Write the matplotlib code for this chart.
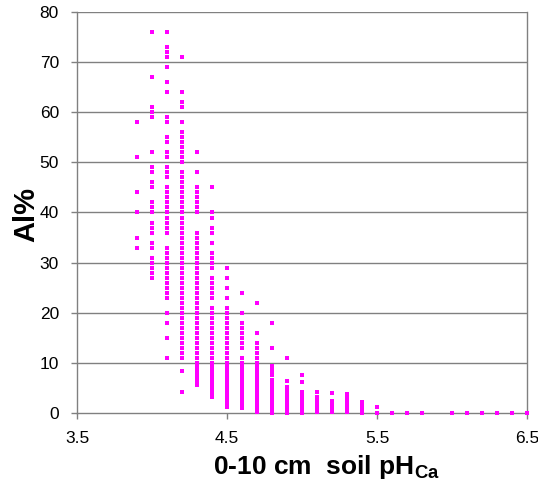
import matplotlib
matplotlib.use("Agg")
import matplotlib.pyplot as plt

plt.rcParams['font.family'] = ['Liberation Sans', 'DejaVu Sans']
plt.rcParams['mathtext.fontset'] = 'custom'
plt.rcParams['mathtext.rm'] = 'Liberation Sans:bold'
plt.rcParams['mathtext.bf'] = 'Liberation Sans:bold'

# ---- data: Al% observations at each 0-10 cm soil pH(Ca) level ----
al_39 = [58, 51, 44, 40, 35, 33]
al_40 = [76, 67, 61, 60, 59, 52, 49, 48, 46, 45, 42, 41, 40, 38, 37, 36, 34, 33,
         31, 30, 29, 28, 27]
al_41 = [76, 73, 72, 71, 69, 66, 64, 59, 58, 55, 54, 52, 51, 49, 48, 47, 45, 44,
         43, 42, 41, 40, 39, 38, 37, 36, 33, 32, 31, 30, 29, 28, 27, 26, 25, 24,
         23, 20, 18, 15, 11]
al_42 = [71, 64, 62, 61, 58, 56, 55, 54, 53, 52, 51, 50, 48, 47, 46, 45, 44, 43,
         42, 41, 40, 39, 38, 37, 36, 35, 34, 33, 32, 31, 30, 29, 28, 27, 26, 25,
         24, 23, 22, 21, 20, 19, 18, 17, 16, 15, 14, 13, 12, 11, 8.4, 4.2]
al_43 = [52, 48, 45, 44, 43, 42, 41, 40, 36, 35, 34, 33, 32, 31, 30, 29, 28, 27,
         26, 25, 24, 23, 22, 21, 20, 19, 18, 17, 16, 15, 14, 13, 12, 11, 10, 9.5,
         9, 8.5, 8, 7.5, 7, 6.5, 6, 5.6]
al_44 = [45, 40, 39, 37, 36, 34, 32, 31, 30, 29, 27, 26, 25, 24, 23, 21, 20, 19,
         18, 17, 16, 15, 14, 13, 12, 11, 10, 9.5, 9, 8.5, 8, 7.5, 7, 6.5, 6, 5.5,
         5, 4.5, 4, 3.6, 3.2]
al_45 = [29, 27, 25, 23, 21, 20, 19, 18, 17, 16, 15, 14, 13, 12, 11, 10, 9.5, 9,
         8.5, 8, 7.5, 7, 6.5, 6, 5.5, 5, 4.5, 4, 3.5, 3, 2.5, 2, 1.6, 1.2]
al_46 = [24, 20, 18, 17, 16, 15, 14, 13, 11, 10, 9.5, 9, 8.5, 8, 7.5, 7, 6.5, 6,
         5.5, 5, 4.5, 4, 3.5, 3, 2.5, 2, 1.5, 1]
al_47 = [22, 16, 14, 13, 12, 11, 10, 9.5, 9, 8.5, 8, 7.5, 7, 6.5, 6, 5.5, 5, 4.5,
         4, 3.5, 3, 2.5, 2, 1.5, 1, 0.6, 0.2]
al_48 = [18, 13, 9.4, 8.8, 8.2, 7.6, 6.6, 6, 5.5, 5, 4.5, 4, 3.5, 3, 2.5, 2, 1.5,
         1, 0.5, 0]
al_49 = [11, 6.4, 5.2, 4.6, 4, 3.5, 3, 2.5, 2, 1.5, 1, 0.5, 0]
al_50 = [7.6, 6.2, 4.2, 3.6, 3, 2.5, 2, 1.5, 1, 0.5, 0]
al_51 = [4.2, 3.2, 2.6, 2, 1.4, 0.8, 0.2]
al_52 = [4.0, 2.4, 1.8, 1.2, 0.6, 0.2]
al_53 = [3.8, 3.2, 2.6, 2, 1.4, 0.8, 0.2]
al_54 = [2.2, 1.6, 1.0, 0.4, 0]
al_55 = [1.2, 0]
al_high_ph = [5.6, 5.7, 5.8, 6.0, 6.1, 6.2, 6.3, 6.4, 6.5]   # all Al% = 0
al_high = [0, 0, 0, 0, 0, 0, 0, 0, 0]

ph_levels = [3.9, 4.0, 4.1, 4.2, 4.3, 4.4, 4.5, 4.6, 4.7, 4.8, 4.9, 5.0, 5.1,
             5.2, 5.3, 5.4, 5.5]
al_columns = [al_39, al_40, al_41, al_42, al_43, al_44, al_45, al_46, al_47,
              al_48, al_49, al_50, al_51, al_52, al_53, al_54, al_55]

x_ticks = [3.5, 4.5, 5.5, 6.5]
x_ticklabels = ["3.5", "4.5", "5.5", "6.5"]
y_ticks = [0, 10, 20, 30, 40, 50, 60, 70, 80]

xs, ys = [], []
for ph, col in zip(ph_levels, al_columns):
    xs.extend([ph] * len(col))
    ys.extend(col)
xs.extend(al_high_ph)
ys.extend(al_high)

fig = plt.figure(figsize=(5.38, 4.95), dpi=100)
ax = fig.add_axes([77 / 538, 82 / 495, 450 / 538, 401 / 495])

grid_c = '#808080'
for v in y_ticks[1:]:
    ax.axhline(v, color=grid_c, lw=1.0, zorder=1)

ax.scatter(xs, ys, marker='s', s=10, color='#FF00FF', linewidths=0,
           zorder=5, clip_on=False)

ax.set_xlim(3.5, 6.5)
ax.set_ylim(0, 80)
ax.set_xticks(x_ticks)
ax.set_xticklabels(x_ticklabels)
ax.set_yticks(y_ticks)
ax.set_yticklabels([str(v) for v in y_ticks])

for s in ax.spines.values():
    s.set_color(grid_c)
    s.set_linewidth(1.0)
ax.spines['top'].set_visible(False)

ax.tick_params(axis='both', direction='out', length=4, width=1, color=grid_c,
               labelsize=12.5, labelcolor='black')
ax.tick_params(axis='x', pad=9)
ax.tick_params(axis='y', pad=9)

ax.set_xlabel(r'0-10 cm  soil pH$_{\rm Ca}$', fontsize=19, fontweight='bold')
ax.xaxis.set_label_coords(0.554, -0.10)
ax.set_ylabel('Al%', fontsize=21, fontweight='bold')
ax.yaxis.set_label_coords(-0.082, 0.495)

fig.savefig('out.png', dpi=100)
